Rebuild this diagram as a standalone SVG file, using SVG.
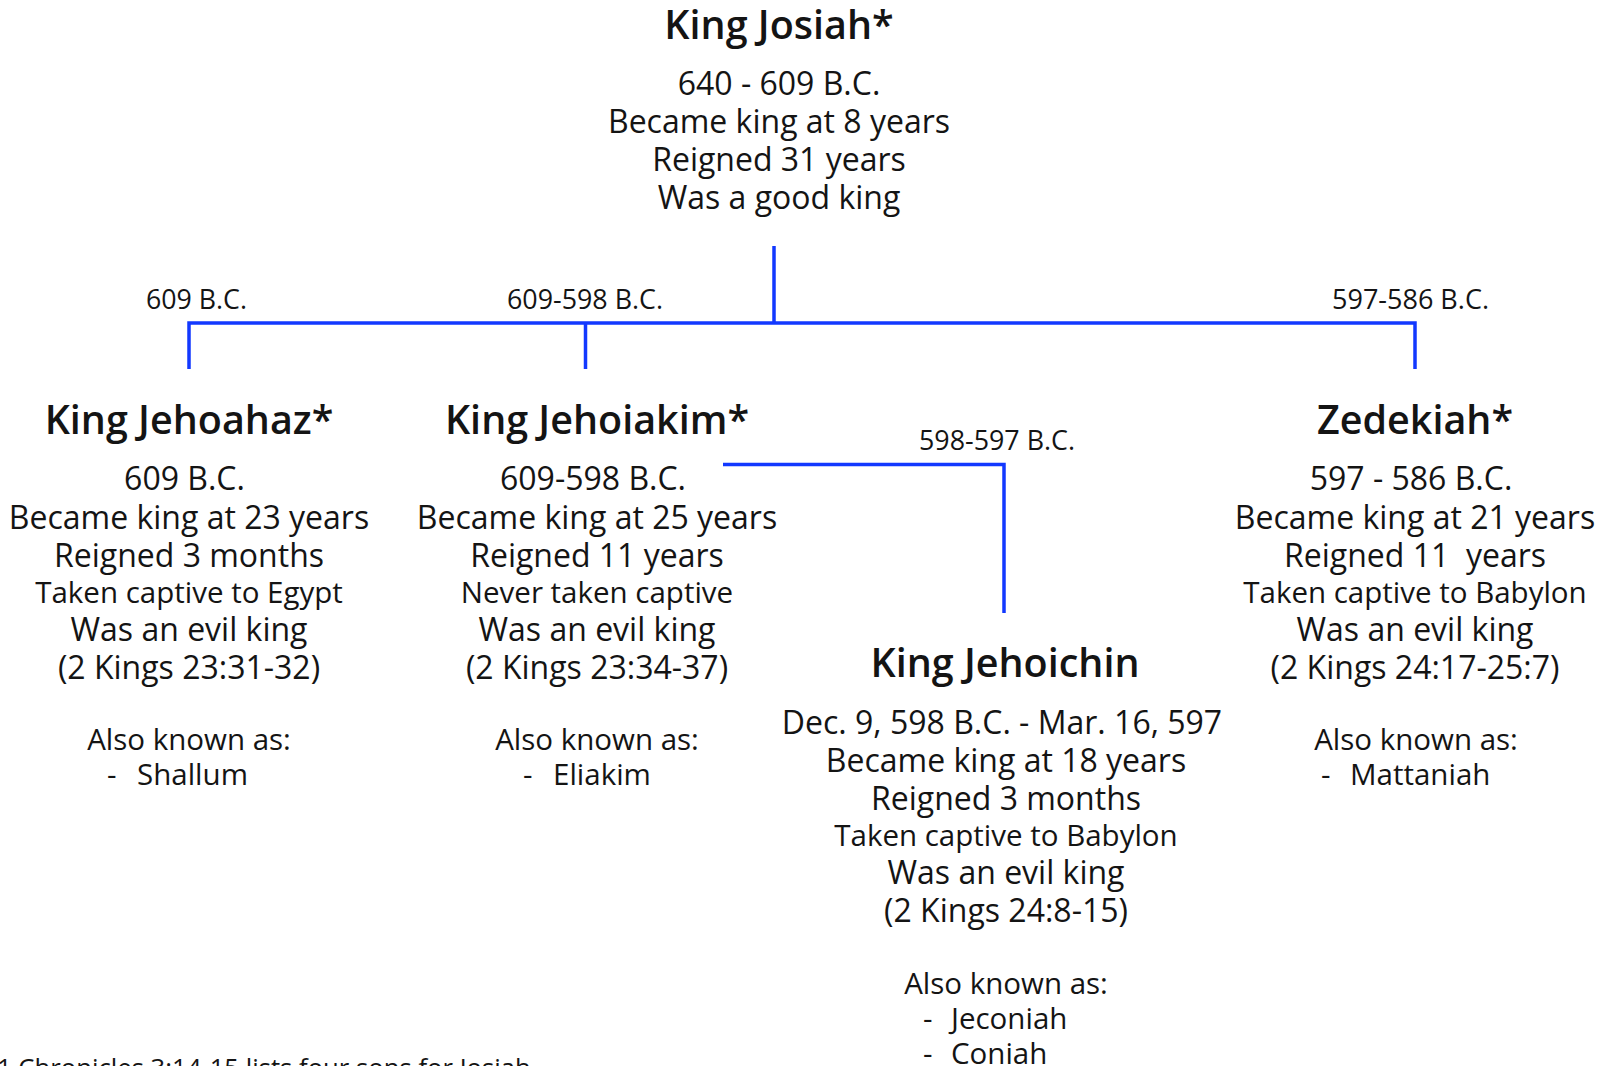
<svg xmlns="http://www.w3.org/2000/svg" width="1608" height="1066" viewBox="0 0 1608 1066">
<style>
text{font-family:"Open Sans","Noto Sans","DejaVu Sans",sans-serif;fill:#141414}
.h{font-size:39.5px;font-weight:600;text-anchor:middle}
.b{font-size:32px;text-anchor:middle}
.s{font-size:29.5px;text-anchor:middle}
.l{font-size:29.5px}
.lbl{font-size:28px}
.c{fill:none;stroke:#1238ff;stroke-width:3.5}
</style>
<rect width="1608" height="1066" fill="#fff"/>
<g id="connectors">
<path class="c" d="M774 246V323M189 369V323H1415V369M585.5 323V369"/>
<path class="c" d="M723 464.5H1004V613"/>
<text class="lbl" x="146" y="309" textLength="101" lengthAdjust="spacingAndGlyphs">609 B.C.</text>
<text class="lbl" x="507" y="309" textLength="156" lengthAdjust="spacingAndGlyphs">609-598 B.C.</text>
<text class="lbl" x="1332" y="309" textLength="157" lengthAdjust="spacingAndGlyphs">597-586 B.C.</text>
<text class="lbl" x="919" y="450" textLength="156" lengthAdjust="spacingAndGlyphs">598-597 B.C.</text>
</g>
<g id="josiah">
<text class="h" x="779" y="39">King Josiah*</text>
<text class="b" x="779" y="95">640 - 609 B.C.</text>
<text class="b" x="779" y="133">Became king at 8 years</text>
<text class="b" x="779" y="171">Reigned 31 years</text>
<text class="b" x="779" y="209">Was a good king</text>
</g>
<g id="jehoahaz">
<text class="h" x="189" y="434">King Jehoahaz*</text>
<text class="b" x="184.5" y="490">609 B.C.</text>
<text class="b" x="189" y="529">Became king at 23 years</text>
<text class="b" x="189" y="567">Reigned 3 months</text>
<text class="s" x="189" y="603">Taken captive to Egypt</text>
<text class="b" x="189" y="641">Was an evil king</text>
<text class="b" x="189" y="679">(2 Kings 23:31-32)</text>
<text class="s" x="189" y="750">Also known as:</text>
<text class="l" x="107" y="785">-</text>
<text class="l" x="137" y="785">Shallum</text>
</g>
<g id="jehoiakim">
<text class="h" x="597" y="434">King Jehoiakim*</text>
<text class="b" x="593" y="490">609-598 B.C.</text>
<text class="b" x="597" y="529">Became king at 25 years</text>
<text class="b" x="597" y="567">Reigned 11 years</text>
<text class="s" x="597" y="603">Never taken captive</text>
<text class="b" x="597" y="641">Was an evil king</text>
<text class="b" x="597" y="679">(2 Kings 23:34-37)</text>
<text class="s" x="597" y="750">Also known as:</text>
<text class="l" x="523" y="785">-</text>
<text class="l" x="553" y="785">Eliakim</text>
</g>
<g id="zedekiah">
<text class="h" x="1415" y="434">Zedekiah*</text>
<text class="b" x="1411" y="490">597 - 586 B.C.</text>
<text class="b" x="1415" y="529">Became king at 21 years</text>
<text class="b" x="1415" y="567">Reigned 11&#160; years</text>
<text class="s" x="1415" y="603">Taken captive to Babylon</text>
<text class="b" x="1415" y="641">Was an evil king</text>
<text class="b" x="1415" y="679">(2 Kings 24:17-25:7)</text>
<text class="s" x="1416" y="750">Also known as:</text>
<text class="l" x="1321" y="785">-</text>
<text class="l" x="1350" y="785">Mattaniah</text>
</g>
<g id="jehoichin">
<text class="h" x="1005" y="677">King Jehoichin</text>
<text class="b" x="1002" y="734">Dec. 9, 598 B.C. - Mar. 16, 597</text>
<text class="b" x="1006" y="772">Became king at 18 years</text>
<text class="b" x="1006" y="810">Reigned 3 months</text>
<text class="s" x="1006" y="846">Taken captive to Babylon</text>
<text class="b" x="1006" y="884">Was an evil king</text>
<text class="b" x="1006" y="922">(2 Kings 24:8-15)</text>
<text class="s" x="1006" y="994">Also known as:</text>
<text class="l" x="923" y="1029">-</text>
<text class="l" x="951" y="1029">Jeconiah</text>
<text class="l" x="923" y="1064">-</text>
<text class="l" x="951" y="1064">Coniah</text>
</g>
<g id="footnote">
<text x="-3" y="1077" style="font-size:25.7px">1 Chronicles 3:14-15 lists four sons for Josiah</text>
</g>
</svg>
